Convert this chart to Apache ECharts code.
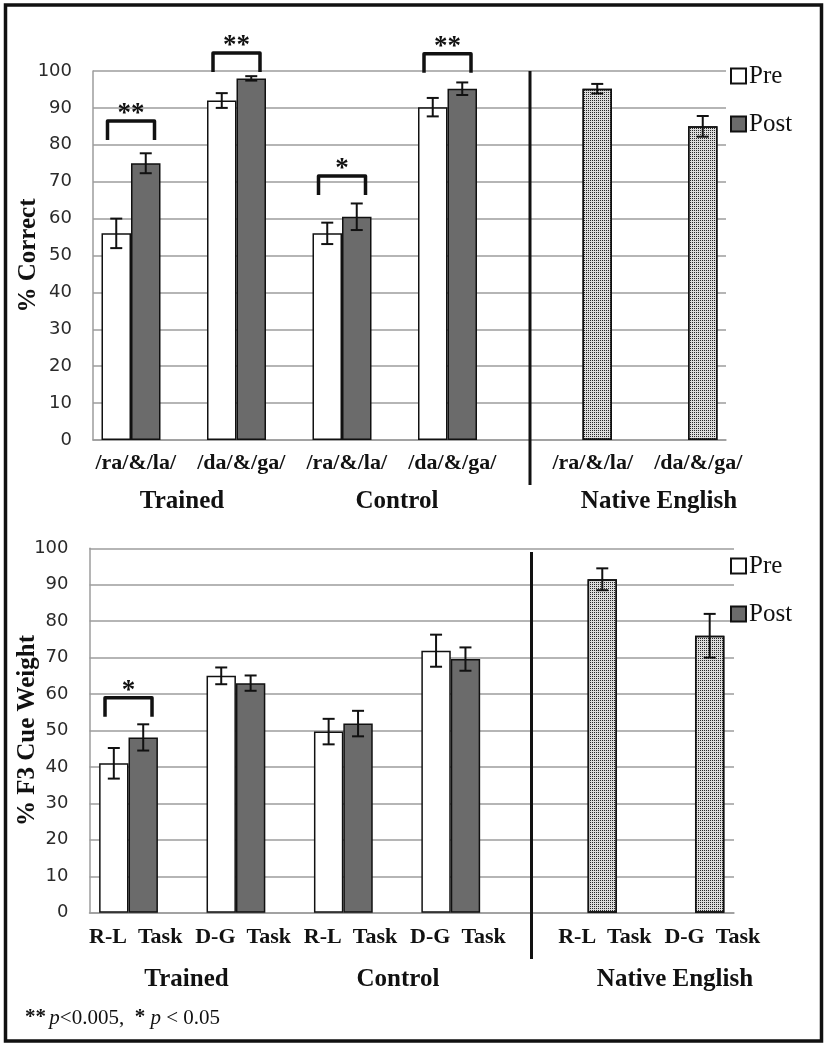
<!DOCTYPE html>
<html>
<head>
<meta charset="utf-8">
<script src="https://cdn.jsdelivr.net/npm/echarts@6/dist/echarts.min.js"></script>
<style>
html,body{margin:0;padding:0;background:#fff;}
#chart{width:834px;height:1050px;}
</style>
</head>
<body>
<div id="chart"></div>
<script>
// ---------- data ----------
const topCategories = ['/ra/&/la/', '/da/&/ga/', '/ra/&/la/', '/da/&/ga/', '/ra/&/la/', '/da/&/ga/'];
const topPre       = [56, 92, 56, 90.2, null, null];
const topPreErr    = [4, 2, 2.9, 2.5, null, null];
const topPost      = [75, 98, 60.5, 95.2, null, null];
const topPostErr   = [2.7, 0.6, 3.6, 1.7, null, null];
const topNative    = [null, null, null, null, 95.2, 85];
const topNativeErr = [null, null, null, null, 1.3, 2.8];
const topSig = [[0, 81.3, '**'], [1, 99.7, '**'], [2, 66.4, '*'], [3, 99.5, '**']];

const botCategories = ['R-L  Task', 'D-G  Task', 'R-L  Task', 'D-G  Task', 'R-L  Task', 'D-G  Task'];
const botPre       = [41, 65, 49.7, 71.9, null, null];
const botPreErr    = [4.2, 2.3, 3.5, 4.4, null, null];
const botPost      = [48.1, 63, 51.9, 69.6, null, null];
const botPostErr   = [3.6, 2.1, 3.5, 3.2, null, null];
const botNative    = [null, null, null, null, 91.5, 76];
const botNativeErr = [null, null, null, null, 3, 6];
const botSig = [[0, 53.8, '*']];

const yTicks = [0, 10, 20, 30, 40, 50, 60, 70, 80, 90, 100];
const groupLabels = ['Trained', 'Control', 'Native English'];
const legendNames = ['Pre', 'Post'];

// ---------- styling ----------
const SERIF = '"Liberation Serif", "Times New Roman", serif';
const SANS = '"DejaVu Sans", Verdana, sans-serif';
const GRID_COLOR = '#9c9c9c';
const POST_COLOR = '#6b6b6b';
const BW_TOP = 29.5, BW_BOT = 29.4;

function errData(vals, errs) {
  const out = [];
  vals.forEach((v, i) => { if (v != null && errs[i] != null) out.push([i, v, errs[i]]); });
  return out;
}

function errSeries(vals, errs, offsetFactor, bw, axisIdx) {
  return {
    type: 'custom', xAxisIndex: axisIdx, yAxisIndex: axisIdx, z: 5, silent: true,
    data: errData(vals, errs),
    renderItem: function (params, api) {
      const i = api.value(0), v = api.value(1), e = api.value(2);
      const x = api.coord([i, v])[0] + offsetFactor * bw;
      const yt = api.coord([i, v + e])[1];
      const yb = api.coord([i, v - e])[1];
      const st = { stroke: '#111', lineWidth: 2 };
      return { type: 'group', children: [
        { type: 'line', shape: { x1: x, y1: yt, x2: x, y2: yb }, style: st },
        { type: 'line', shape: { x1: x - 6, y1: yt, x2: x + 6, y2: yt }, style: st },
        { type: 'line', shape: { x1: x - 6, y1: yb, x2: x + 6, y2: yb }, style: st }
      ]};
    }
  };
}

function sigSeries(sig, bw, axisIdx) {
  return {
    type: 'custom', xAxisIndex: axisIdx, yAxisIndex: axisIdx, z: 6, silent: true, clip: false,
    data: sig.map(s => [s[0], s[1]]),
    renderItem: function (params, api) {
      const i = api.value(0), y = api.value(1);
      const p = api.coord([i, y]);
      const xc = p[0] - bw / 2;
      const yl = p[1], yt = p[1] - 19;
      const lbl = sig[params.dataIndex][2];
      return { type: 'group', children: [
        { type: 'polyline', shape: { points: [[xc - 23.5, yl], [xc - 23.5, yt], [xc + 23.5, yt], [xc + 23.5, yl]] },
          style: { stroke: '#111', lineWidth: 3.5, fill: null, lineJoin: 'round' } },
        { type: 'text', style: { text: lbl, x: xc, y: yt - 7, align: 'center', verticalAlign: 'middle',
          font: 'bold 27px ' + SERIF, fill: '#111' } }
      ]};
    }
  };
}

const nativeDecal = { symbol: 'rect', symbolSize: 1, dashArrayX: [[1, 1]], dashArrayY: [1, 1], color: 'rgba(20,20,20,0.9)', rotation: 0 };

function barSeries(name, data, color, axisIdx, bw, decal) {
  const s = {
    type: 'bar', name: name, xAxisIndex: axisIdx, yAxisIndex: axisIdx, data: data,
    barWidth: bw, barGap: '0%',
    itemStyle: { color: color, borderColor: '#111', borderWidth: 1.5 },
    emphasis: { disabled: true }, silent: true
  };
  if (decal) s.itemStyle.decal = decal;
  return s;
}

function yAxisCfg(gridIdx, name, gap) {
  return {
    type: 'value', gridIndex: gridIdx, min: 0, max: 100, interval: 10,
    name: name, nameLocation: 'middle', nameRotate: 90, nameGap: gap, nameMoveOverlap: false,
    nameTextStyle: { fontFamily: SERIF, fontWeight: 'bold', fontSize: 25, color: '#111' },
    axisLine: { show: true, lineStyle: { color: GRID_COLOR, width: 1.5 } },
    axisTick: { show: false },
    axisLabel: { fontFamily: SANS, fontSize: 18, color: '#2a2a2a', margin: 21,
      formatter: v => (yTicks.indexOf(v) >= 0 ? String(v) : '') },
    splitLine: { show: true, lineStyle: { color: GRID_COLOR, width: 1.5 } }
  };
}

function xAxisCfg(gridIdx, cats, margin, padPair, padNative) {
  return {
    type: 'category', gridIndex: gridIdx, data: cats,
    axisLine: { show: true, lineStyle: { color: GRID_COLOR, width: 1.5 } },
    axisTick: { show: false },
    axisLabel: {
      interval: 0, margin: margin,
      formatter: (v, i) => (i < 4 ? '{p|' + v + '}' : '{n|' + v + '}'),
      rich: {
        p: { fontFamily: SERIF, fontWeight: 'bold', fontSize: 22, color: '#111', padding: [0, padPair, 0, 0] },
        n: { fontFamily: SERIF, fontWeight: 'bold', fontSize: 22, color: '#111', padding: [0, 0, 0, padNative] }
      }
    }
  };
}

function legendCfg(top) {
  return {
    data: legendNames, orient: 'vertical', left: 730, top: top, padding: 0,
    itemWidth: 15, itemHeight: 15, itemGap: 23, icon: 'rect', selectedMode: false,
    textStyle: { fontFamily: SERIF, fontSize: 25, color: '#111', lineHeight: 24, padding: [0, 0, 0, -2] }
  };
}

function groupText(x, y, t) {
  return { type: 'text', x: x, y: y, style: { text: t, x: 0, y: 0, align: 'center', verticalAlign: 'middle',
    font: 'bold 25px ' + SERIF, fill: '#111' } };
}

const option = {
  backgroundColor: '#fff',
  animation: false,
  grid: [
    { left: 93, top: 71, width: 633, height: 369, containLabel: false, outerBoundsMode: 'none' },
    { left: 89.5, top: 548.3, width: 644.5, height: 364.4, containLabel: false, outerBoundsMode: 'none' }
  ],
  legend: [legendCfg(63.5), legendCfg(553.5)],
  xAxis: [xAxisCfg(0, topCategories, 12, 20, 50), xAxisCfg(1, botCategories, 14, 15, 64)],
  yAxis: [yAxisCfg(0, '% Correct', 52), yAxisCfg(1, '% F3 Cue Weight', 49)],
  series: [
    barSeries('Pre', topPre, '#ffffff', 0, BW_TOP),
    barSeries('Post', topPost, POST_COLOR, 0, BW_TOP),
    barSeries('Native', topNative, '#dcdcdc', 0, BW_TOP, nativeDecal),
    errSeries(topPre, topPreErr, -1, BW_TOP, 0),
    errSeries(topPost, topPostErr, 0, BW_TOP, 0),
    errSeries(topNative, topNativeErr, 1, BW_TOP, 0),
    sigSeries(topSig, BW_TOP, 0),
    barSeries('Pre', botPre, '#ffffff', 1, BW_BOT),
    barSeries('Post', botPost, POST_COLOR, 1, BW_BOT),
    barSeries('Native', botNative, '#dcdcdc', 1, BW_BOT, nativeDecal),
    errSeries(botPre, botPreErr, -1, BW_BOT, 1),
    errSeries(botPost, botPostErr, 0, BW_BOT, 1),
    errSeries(botNative, botNativeErr, 1, BW_BOT, 1),
    sigSeries(botSig, BW_BOT, 1)
  ],
  graphic: [
    { type: 'rect', shape: { x: 5.5, y: 5, width: 816, height: 1036 }, style: { fill: null, stroke: '#111', lineWidth: 3.5 }, z: 100 },
    { type: 'line', shape: { x1: 530, y1: 71, x2: 530, y2: 485 }, style: { stroke: '#111', lineWidth: 3 }, z: 100 },
    { type: 'line', shape: { x1: 531.5, y1: 552, x2: 531.5, y2: 959 }, style: { stroke: '#111', lineWidth: 3 }, z: 100 },
    groupText(182, 502, groupLabels[0]),
    groupText(397, 502, groupLabels[1]),
    groupText(659, 502, groupLabels[2]),
    groupText(186.5, 980, groupLabels[0]),
    groupText(398, 980, groupLabels[1]),
    groupText(675, 980, groupLabels[2]),
    { type: 'text', x: 25, y: 1018, style: {
      text: '{b|**} {i|p}{a|<0.005,  }{b|*}{a| }{i|p}{a| < 0.05}', verticalAlign: 'middle', align: 'left',
      rich: {
        a: { fontFamily: SERIF, fontSize: 21, fill: '#111' },
        b: { fontFamily: SERIF, fontSize: 21, fontWeight: 'bold', fill: '#111' },
        i: { fontFamily: SERIF, fontSize: 21, fontStyle: 'italic', fill: '#111' }
      } } }
  ]
};

const chart = echarts.init(document.getElementById('chart'), null, { renderer: 'canvas' });
chart.setOption(option);
</script>
</body>
</html>
